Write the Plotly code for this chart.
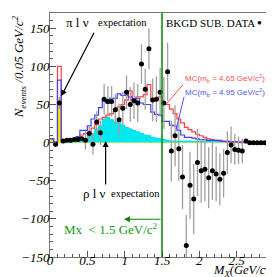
import numpy as np
import plotly.graph_objects as go

# ---------------- data ----------------
bin_width = 0.05
# background-subtracted data (bin centres, values, errors)
data_x = [0.075, 0.125, 0.175, 0.225, 0.275, 0.325, 0.375, 0.425, 0.475, 0.525,
          0.575, 0.625, 0.675, 0.725, 0.775, 0.825, 0.875, 0.925, 0.975, 1.025,
          1.075, 1.125, 1.175, 1.225, 1.275, 1.325, 1.375, 1.425, 1.475, 1.525,
          1.575, 1.625, 1.675, 1.725, 1.775, 1.825, 1.875, 1.925, 1.975, 2.025,
          2.075, 2.125, 2.175, 2.225, 2.275, 2.325, 2.375, 2.425, 2.475, 2.525,
          2.575, 2.625, 2.675, 2.725, 2.775, 2.825, 2.875, 2.925, 2.975]
data_y = [-2, 52, 2, 3, 3, 4, 4, 5, 3, 12,
          -2, 27, 13, 57, 54, 54, 43, 30, 45, 66,
          50, 55, 52, 103, 70, 123, 56, 57, 66, 52,
          93, -11, 9, -8, -45, -135, -56, -74, -26, -37,
          -35, -46, -37, -41, -48, -40, -13, -3, -9, -10,
          -11, 2, 0, 0, 0, 0, 0, 0, 0]
data_err = [4, 8, 2, 2, 2, 2, 3, 3, 12, 10,
            14, 14, 16, 20, 20, 20, 20, 21, 22, 22,
            23, 24, 25, 26, 27, 27, 28, 30, 32, 34,
            38, 40, 40, 42, 42, 40, 44, 46, 44, 42,
            42, 40, 38, 36, 34, 32, 28, 24, 20, 18,
            16, 0, 0, 0, 0, 0, 0, 0, 0]

# MC histograms (60 bins of 0.05 from 0 to 3)
mc_465 = [5, 1, 100, 3, 3, 3, 4, 7, 10, 12,
          13, 19, 24, 31, 33, 36, 38, 42, 47, 50,
          56, 68, 55, 60, 60, 63, 76, 58, 58, 60,
          52, 50, 44, 38, 31, 26, 20, 17, 14, 11,
          9, 7, 5, 4, 3, 2, 1.5, 1, 0.5, 0.3,
          0.2, 0.1, 0, 0, 0, 0, 0, 0, 0, 0]
mc_495 = [5, 1, 82, 4, 4, 5, 5, 8, 16, 16,
          22, 31, 36, 46, 55, 52, 58, 58, 64, 62,
          62, 60, 55, 58, 52, 50, 50, 40, 37, 36,
          28, 28, 23, 22, 16, 10, 7, 7, 6, 5,
          4, 4, 3, 3, 3, 3, 2, 2, 1.5, 1.5,
          1, 1, 0.5, 0.3, 0, 0, 0, 0, 0, 0]
rho_lnu = [0, 0, 0, 0, 0, 0, 1, 2, 4, 5,
           9, 12, 18, 22, 31, 33, 30, 27, 26, 23,
           20, 18, 16, 14, 12, 10, 9, 7, 6, 5,
           4, 3, 2, 2, 2, 2, 2, 2, 1.5, 1.5,
           1.5, 1.5, 1.5, 1.5, 1.5, 1.5, 1, 0, 0, 0,
           0, 0, 0, 0, 0, 0, 0, 0, 0, 0]
pi_lnu = [3, 0, 57, 0, 0, 0, 0, 0, 0, 0,
          0, 0, 0, 0, 0, 0, 0, 0, 0, 0,
          0, 0, 0, 0, 0, 0, 0, 0, 0, 0,
          0, 0, 0, 0, 0, 0, 0, 0, 0, 0,
          0, 0, 0, 0, 0, 0, 0, 0, 0, 0,
          0, 0, 0, 0, 0, 0, 0, 0, 0, 0]

x_ticks = [0, 0.5, 1, 1.5, 2, 2.5, 3]
x_ticklabels = ["0", "0.5", "1", "1.5", "2", "2.5", "3"]
y_ticks = [-150, -100, -50, 0, 50, 100, 150]
y_ticklabels = ["\u2212150", "\u2212100", "\u221250", "0", "50", "100", "150"]
mx_cut = 1.5

# ---------------- figure ----------------
edges = np.round(np.arange(len(mc_465) + 1) * bin_width, 4)


def step_y(vals):
    return list(vals) + [vals[-1]]


fig = go.Figure()

# rho l nu expectation (cyan filled)
fig.add_trace(go.Scatter(x=edges, y=step_y(rho_lnu), mode="lines", line_shape="hv",
                         line=dict(color="#00d8e0", width=1), fill="tozeroy",
                         fillcolor="#00e8f0", showlegend=False))
# pi l nu expectation (yellow)
fig.add_trace(go.Scatter(x=edges, y=step_y(pi_lnu), mode="lines", line_shape="hv",
                         line=dict(color="#e8e800", width=0.5), fill="tozeroy",
                         fillcolor="#f0f000", showlegend=False))
# MC histograms
fig.add_trace(go.Scatter(x=edges, y=step_y(mc_465), mode="lines", line_shape="hv",
                         line=dict(color="#ff4040", width=1.2), showlegend=False))
fig.add_trace(go.Scatter(x=edges, y=step_y(mc_495), mode="lines", line_shape="hv",
                         line=dict(color="#4040ff", width=1.2), showlegend=False))
# data
fig.add_trace(go.Scatter(x=data_x, y=data_y, mode="markers",
                         marker=dict(color="black", size=5),
                         error_y=dict(type="data", array=data_err, color="#a0a0a0",
                                      thickness=1.3, width=0),
                         showlegend=False))

serif = "Liberation Serif"
sans = "Liberation Sans"
green = "#109a10"

# Mx cut line
fig.add_shape(type="line", x0=mx_cut, x1=mx_cut, y0=0, y1=1, xref="x", yref="paper",
              line=dict(color="#008800", width=1.5))

ann = []
# pi l nu
ann.append(dict(x=0.151, y=61, ax=0.60, ay=146, axref="x", ayref="y", xref="x", yref="y",
                showarrow=True, arrowhead=2, arrowsize=1, arrowwidth=1.2, arrowcolor="black",
                text=""))
ann.append(dict(x=0.37, y=158, xref="x", yref="y", text="\u03c0 l \u03bd", showarrow=False,
                font=dict(family=serif, size=13, color="black"), xanchor="center"))
ann.append(dict(x=0.97, y=158, xref="x", yref="y", text="expectation", showarrow=False,
                font=dict(family=serif, size=10.5, color="black"), xanchor="center"))
# rho l nu
ann.append(dict(x=0.745, y=2, ax=0.745, ay=-57, axref="x", ayref="y", xref="x", yref="y",
                showarrow=True, arrowhead=2, arrowsize=1, arrowwidth=1.2, arrowcolor="black",
                text=""))
ann.append(dict(x=0.59, y=-67, xref="x", yref="y", text="\u03c1 l \u03bd", showarrow=False,
                font=dict(family=serif, size=13, color="black"), xanchor="center"))
ann.append(dict(x=1.14, y=-67, xref="x", yref="y", text="expectation", showarrow=False,
                font=dict(family=serif, size=10.5, color="black"), xanchor="center"))
# data label
ann.append(dict(x=2.15, y=157, xref="x", yref="y", text="BKGD SUB. DATA", showarrow=False,
                font=dict(family=serif, size=11, color="black"), xanchor="center"))
ann.append(dict(x=2.80, y=158, xref="x", yref="y", text="\u25cf", showarrow=False,
                font=dict(family=sans, size=8, color="black"), xanchor="center"))
# MC labels
ann.append(dict(x=1.56, y=51, ax=1.80, ay=78, axref="x", ayref="y", xref="x", yref="y",
                showarrow=True, arrowhead=0, arrowwidth=1, arrowcolor="#ff5050", text=""))
ann.append(dict(x=1.78, y=84, xref="x", yref="y", xanchor="left",
                text="MC(m<sub>b</sub> = 4.65 GeV/c<sup>2</sup>)", showarrow=False,
                font=dict(family=sans, size=8, color="#ff5050")))
ann.append(dict(x=1.69, y=18, ax=1.80, ay=62, axref="x", ayref="y", xref="x", yref="y",
                showarrow=True, arrowhead=0, arrowwidth=1, arrowcolor="#5050ff", text=""))
ann.append(dict(x=1.78, y=66, xref="x", yref="y", xanchor="left",
                text="MC(m<sub>b</sub> = 4.95 GeV/c<sup>2</sup>)", showarrow=False,
                font=dict(family=sans, size=8, color="#5050ff")))
# Mx cut label
ann.append(dict(x=0.99, y=-100.5, ax=mx_cut, ay=-100.5, axref="x", ayref="y", xref="x", yref="y",
                showarrow=True, arrowhead=2, arrowsize=1, arrowwidth=1.2, arrowcolor="#008800",
                text=""))
ann.append(dict(x=0.82, y=-113, xref="x", yref="y", xanchor="center",
                text="Mx  < 1.5 GeV/c<sup>2</sup>", showarrow=False,
                font=dict(family=serif, size=13, color=green)))
# axis titles
ann.append(dict(x=-0.14, y=0.78, xref="paper", yref="paper", textangle=-90,
                text="N<sub>events</sub> /0.05 GeV/c<sup>2</sup>", showarrow=False,
                font=dict(family=serif, size=13, color="black", style="italic"),
                xanchor="center", yanchor="middle"))
ann.append(dict(x=1.008, y=-0.097, xref="paper", yref="paper", xanchor="right", yanchor="bottom",
                text="M<sub>X</sub>(GeV/c<sup>2</sup>)", showarrow=False,
                font=dict(family=serif, size=12.5, color="black", style="italic")))

axis_common = dict(showline=True, linecolor="#777777", linewidth=1, mirror=True,
                   ticks="inside", tickcolor="#555555", ticklen=6, showgrid=False,
                   zeroline=False,
                   tickfont=dict(family=serif, size=13, color="black", style="italic"))

fig.update_layout(
    width=274, height=277,
    margin=dict(l=42, r=5, t=4, b=28),
    paper_bgcolor="white", plot_bgcolor="white",
    showlegend=False,
    annotations=ann,
    xaxis=dict(range=[0, 3], tickvals=x_ticks, ticktext=x_ticklabels,
               minor=dict(dtick=0.1, ticks="inside", ticklen=3, tickcolor="#555555"),
               ticklabelstandoff=-9, **axis_common),
    yaxis=dict(range=[-150, 170], tickvals=y_ticks, ticktext=y_ticklabels,
               minor=dict(dtick=10, ticks="inside", ticklen=3, tickcolor="#555555"),
               ticklabelstandoff=-3, **axis_common),
)

fig.write_html("out.html")
